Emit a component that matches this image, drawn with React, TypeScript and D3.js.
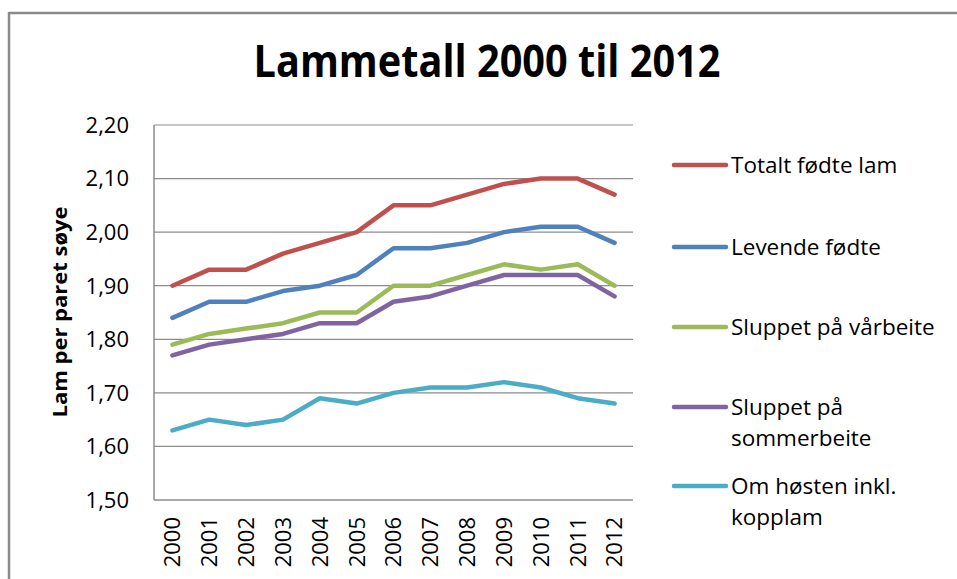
import React from "react";
import * as d3 from "d3";

const years = ["2000","2001","2002","2003","2004","2005","2006","2007","2008","2009","2010","2011","2012"];
const totaltFodte = [1.90,1.93,1.93,1.96,1.98,2.00,2.05,2.05,2.07,2.09,2.10,2.10,2.07];
const levendeFodte = [1.84,1.87,1.87,1.89,1.90,1.92,1.97,1.97,1.98,2.00,2.01,2.01,1.98];
const varbeite = [1.79,1.81,1.82,1.83,1.85,1.85,1.90,1.90,1.92,1.94,1.93,1.94,1.90];
const sommerbeite = [1.77,1.79,1.80,1.81,1.83,1.83,1.87,1.88,1.90,1.92,1.92,1.92,1.88];
const hosten = [1.63,1.65,1.64,1.65,1.69,1.68,1.70,1.71,1.71,1.72,1.71,1.69,1.68];
const yTicks = [1.5,1.6,1.7,1.8,1.9,2.0,2.1,2.2];
const seriesNames = [["Totalt fødte lam"],["Levende fødte"],["Sluppet på vårbeite"],["Sluppet på","sommerbeite"],["Om høsten inkl.","kopplam"]];
const seriesValues = [totaltFodte, levendeFodte, varbeite, sommerbeite, hosten];
const colors = ["#C0504D","#4F81BD","#9BBB59","#8064A2","#4BACC6"];

const W = 957, H = 579;
const plot = { left: 154, right: 633, top: 125, bottom: 500 };
const font = "'Open Sans', 'Noto Sans', sans-serif";

export default function App() {
  const x = d3.scaleBand<string>().domain(years).range([plot.left, plot.right]);
  const y = d3.scaleLinear().domain([1.5, 2.2]).range([plot.bottom, plot.top]);
  const line = d3.line<number>()
    .x((_, i) => (x(years[i]) as number) + x.bandwidth() / 2)
    .y((d) => y(d));
  const legendY = [165, 247, 327, 407, 486];
  return (
    <svg width={W} height={H} style={{ position: "absolute", left: 0, top: 0, background: "#fff" }} fontFamily={font}>
      <rect x={0} y={0} width={W} height={H} fill="#fff" />
      <line x1={9} x2={W} y1={13} y2={13} stroke="#8a8a8a" strokeWidth={2.5} />
      <line x1={9} x2={9} y1={12} y2={H} stroke="#8a8a8a" strokeWidth={2.5} />
      <text x={487} y={77} textAnchor="middle" fontSize={44} fontWeight="bold" textLength={467} lengthAdjust="spacingAndGlyphs" fill="#000">Lammetall 2000 til 2012</text>
      {yTicks.map((t) => (
        <g key={t}>
          {t > 1.5 && <line x1={plot.left} x2={plot.right} y1={y(t)} y2={y(t)} stroke="#8c8c8c" strokeWidth={1.2} />}
          <text x={129} y={y(t)} dy="0.36em" textAnchor="end" fontSize={22} fill="#000">{d3.format(".2f")(t).replace(".", ",")}</text>
        </g>
      ))}
      <line x1={plot.left} x2={plot.right} y1={plot.bottom} y2={plot.bottom} stroke="#8c8c8c" strokeWidth={1.5} />
      <line x1={plot.left} x2={plot.left} y1={plot.top} y2={plot.bottom} stroke="#8c8c8c" strokeWidth={1.5} />
      {years.map((yr) => {
        const cx = (x(yr) as number) + x.bandwidth() / 2;
        return (
          <text key={yr} transform={`translate(${cx},${517}) rotate(-90)`} textAnchor="end" dy="0.36em" fontSize={22} fill="#000">{yr}</text>
        );
      })}
      <text transform={`translate(60,312) rotate(-90)`} textAnchor="middle" dy="0.36em" fontSize={19} fontWeight="bold" textLength={211} lengthAdjust="spacingAndGlyphs" fill="#000">Lam per paret søye</text>
      {seriesValues.map((vals, i) => (
        <path key={i} d={line(vals) as string} fill="none" stroke={colors[i]} strokeWidth={4.5} strokeLinejoin="round" strokeLinecap="round" />
      ))}
      {seriesNames.map((lines, i) => (
        <g key={i}>
          <line x1={674} x2={726} y1={legendY[i]} y2={legendY[i]} stroke={colors[i]} strokeWidth={4.5} strokeLinecap="round" />
          {lines.map((l, j) => (
            <text key={j} x={731} y={legendY[i] + 8 + j * 31} fontSize={22.5} fill="#000">{l}</text>
          ))}
        </g>
      ))}
    </svg>
  );
}
